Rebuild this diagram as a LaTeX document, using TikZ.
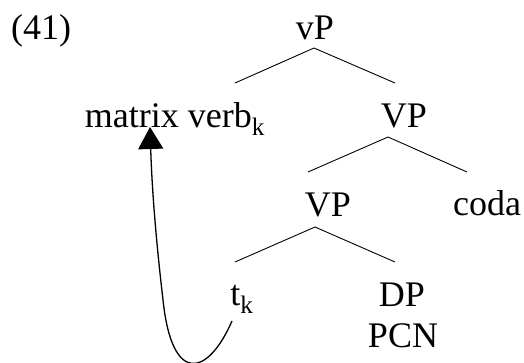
\documentclass[tikz,border=0pt]{standalone}
\usepackage{fontspec}
\setmainfont{Liberation Serif}
\usetikzlibrary{arrows.meta}
\begin{document}
\begin{tikzpicture}[x=1pt,y=-1pt,
  lbl/.style={inner sep=0pt, anchor=base, font=\fontsize{36}{40}\selectfont},
  branch/.style={line width=0.9pt},
  move/.style={line width=1.3pt, -{Triangle[width=25pt,length=22pt]}}]
\useasboundingbox (0,0) rectangle (524,362);
\node[lbl] (ex)  at (41,39)   {(41)};
\node[lbl] (vP)  at (315,39)  {vP};
\node[lbl] (mv)  at (175,127) {matrix verb\textsubscript{k}};
\node[lbl] (VP1) at (404,127) {VP};
\node[lbl] (VP2) at (328,216) {VP};
\node[lbl] (coda) at (487,215) {coda};
\node[lbl] (tk)  at (242,305) {t\textsubscript{k}};
\node[lbl] (DP)  at (402,306) {DP};
\node[lbl] (PCN) at (403,347) {PCN};
% branch points
\coordinate (a1) at (314,48);
\coordinate (l1) at (235,83);
\coordinate (r1) at (395,83);
\coordinate (a2) at (388,137);
\coordinate (l2) at (308,172);
\coordinate (r2) at (467,172);
\coordinate (a3) at (315,227);
\coordinate (l3) at (235,262);
\coordinate (r3) at (395,262);
\draw[branch] (l1) -- (a1) -- (r1);
\draw[branch] (l2) -- (a2) -- (r2);
\draw[branch] (l3) -- (a3) -- (r3);
% movement arrow
\coordinate (trace) at (232,321);
\coordinate (land) at (150,127);
\draw[move] (trace) .. controls (208,376) and (172,386) .. (163,300)
  .. controls (156,240) and (152,190) .. (land);
\end{tikzpicture}
\end{document}
